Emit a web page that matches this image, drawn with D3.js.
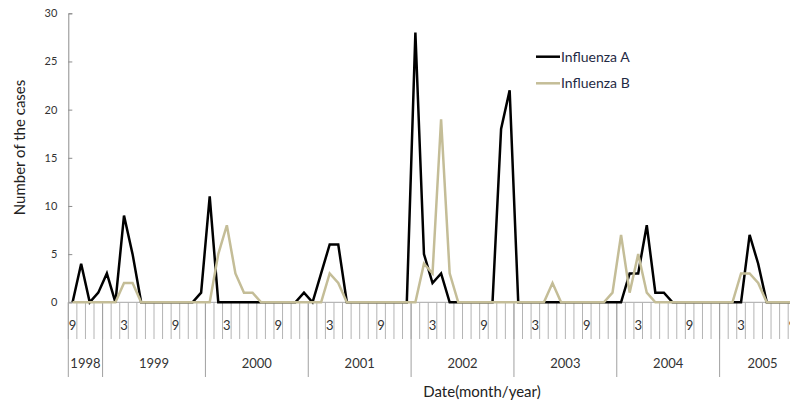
<!DOCTYPE html>
<html>
<head>
<meta charset="utf-8">
<script src="https://cdn.jsdelivr.net/npm/d3@7"></script>
<style>
  html, body { margin: 0; padding: 0; background: #fff; }
  svg { display: block; font-family: Lato, "Open Sans", sans-serif; }
</style>
</head>
<body>
<svg id="chart" width="790" height="404"></svg>
<script>
// ---- Data ----
// Monthly categories: Sep 1998 .. Oct 2005
const years = [1998, 1999, 2000, 2001, 2002, 2003, 2004, 2005];
const monthsPerYear = [4, 12, 12, 12, 12, 12, 12, 10];
const firstMonthOfYear = [9, 1, 1, 1, 1, 1, 1, 1];

const influenzaA = [
  0, 4, 0, 1,                               // 1998 Sep-Dec
  3, 0, 9, 5, 0, 0, 0, 0, 0, 0, 0, 1,       // 1999
  11, 0, 0, 0, 0, 0, 0, 0, 0, 0, 0, 1,      // 2000
  0, 3, 6, 6, 0, 0, 0, 0, 0, 0, 0, 0,       // 2001
  28, 5, 2, 3, 0, 0, 0, 0, 0, 0, 18, 22,    // 2002
  0, 0, 0, 0, 0, 0, 0, 0, 0, 0, 0, 0,       // 2003
  0, 3, 3, 8, 1, 1, 0, 0, 0, 0, 0, 0,       // 2004
  0, 0, 0, 7, 4, 0, 0, 0, 0, 0              // 2005 Jan-Oct
];
const influenzaB = [
  0, 0, 0, 0,
  0, 0, 2, 2, 0, 0, 0, 0, 0, 0, 0, 0,
  0, 5, 8, 3, 1, 1, 0, 0, 0, 0, 0, 0,
  0, 0, 3, 2, 0, 0, 0, 0, 0, 0, 0, 0,
  0, 4, 3, 19, 3, 0, 0, 0, 0, 0, 0, 0,
  0, 0, 0, 0, 2, 0, 0, 0, 0, 0, 0, 1,
  7, 1, 5, 1, 0, 0, 0, 0, 0, 0, 0, 0,
  0, 0, 3, 3, 2, 0, 0, 0, 0, 0
];
const yTicks = [0, 5, 10, 15, 20, 25, 30];
const labeledMonths = [3, 9];
const seriesNames = ["Influenza A", "Influenza B"];

// ---- Build month list ----
const months = [];
years.forEach((yr, k) => {
  for (let j = 0; j < monthsPerYear[k]; j++) {
    months.push({ year: yr, month: firstMonthOfYear[k] + j, idx: months.length });
  }
});

// ---- Layout ----
const svg = d3.select("#chart");
const plotLeft = 68.3, plotRight = 68.3 + 86 * 8.57;
const plotTop = 13.3, plotBottom = 302.3;

const x = d3.scaleBand().domain(months.map(d => d.idx)).range([plotLeft, plotRight]).padding(0);
const y = d3.scaleLinear().domain([0, 30]).range([plotBottom, plotTop]);
const cx = i => x(i) + x.bandwidth() / 2;

const gray = "#a6a6a6";
const textCol = "#333";

// ---- Y axis ----
const yAxis = d3.axisLeft(y).tickValues(yTicks).tickSize(-4).tickPadding(11);
const gy = svg.append("g").attr("transform", `translate(${plotLeft},0)`).call(yAxis);
gy.select(".domain").attr("stroke", "#8c8c8c").attr("stroke-width", 1);
gy.selectAll(".tick line").attr("stroke", "#8c8c8c");
gy.selectAll(".tick text").attr("fill", textCol).style("font-size", "11px")
  .style("font-family", "Lato, 'Open Sans', sans-serif");

// ---- X axis (multi-level) ----
const gx = svg.append("g");
gx.append("line").attr("x1", plotLeft).attr("x2", plotRight).attr("y1", plotBottom).attr("y2", plotBottom)
  .attr("stroke", gray).attr("stroke-width", 1);

// month tick separators
gx.selectAll("line.mtick").data(d3.range(months.length + 1)).join("line")
  .attr("class", "mtick")
  .attr("x1", i => plotLeft + i * x.bandwidth()).attr("x2", i => plotLeft + i * x.bandwidth())
  .attr("y1", plotBottom).attr("y2", 339)
  .attr("stroke", "#b4b4b4").attr("stroke-width", 1);

// month labels
gx.selectAll("text.mlab").data(months.filter(d => labeledMonths.includes(d.month))).join("text")
  .attr("class", "mlab")
  .attr("x", d => cx(d.idx)).attr("y", 330)
  .attr("text-anchor", "middle").attr("fill", textCol)
  .style("font-size", "13px")
  .text(d => d.month);

// year dividers and labels
let acc = 0;
const yearSpans = years.map((yr, k) => {
  const s = { year: yr, start: acc, end: acc + monthsPerYear[k] };
  acc += monthsPerYear[k];
  return s;
});
const boundaries = [0].concat(yearSpans.map(s => s.end));
gx.selectAll("line.ydiv").data(boundaries).join("line")
  .attr("class", "ydiv")
  .attr("x1", i => plotLeft + i * x.bandwidth()).attr("x2", i => plotLeft + i * x.bandwidth())
  .attr("y1", plotBottom).attr("y2", 377)
  .attr("stroke", "#a0a0a0").attr("stroke-width", 1);
gx.selectAll("text.ylab").data(yearSpans).join("text")
  .attr("class", "ylab")
  .attr("x", s => plotLeft + (s.start + s.end) / 2 * x.bandwidth()).attr("y", 368)
  .attr("text-anchor", "middle").attr("fill", textCol)
  .style("font-size", "13px")
  .text(s => s.year);

// ---- Axis titles ----
svg.append("text").attr("x", 482).attr("y", 397).attr("text-anchor", "middle")
  .attr("fill", "#222").style("font-size", "15px").text("Date(month/year)");
svg.append("text").attr("transform", "translate(24.5,147.5) rotate(-90)")
  .attr("text-anchor", "middle").attr("fill", "#222").style("font-size", "15px")
  .text("Number of the cases");

// ---- Lines ----
const line = d3.line().x((d, i) => cx(i)).y(d => y(d));
svg.append("path").datum(influenzaA).attr("d", line)
  .attr("fill", "none").attr("stroke", "#000").attr("stroke-width", 2.5)
  .attr("stroke-linejoin", "miter");
svg.append("path").datum(influenzaB).attr("d", line)
  .attr("fill", "none").attr("stroke", "#c4bd97").attr("stroke-width", 2.5)
  .attr("stroke-linejoin", "miter");

// ---- Legend ----
const legColors = ["#000", "#c4bd97"];
const leg = svg.append("g");
seriesNames.forEach((name, k) => {
  const ly = 56.7 + k * 26.6;
  leg.append("line").attr("x1", 536).attr("x2", 560).attr("y1", ly).attr("y2", ly)
    .attr("stroke", legColors[k]).attr("stroke-width", 2.5);
  leg.append("text").attr("x", 561).attr("y", ly + 5).attr("fill", "#1f2a44")
    .style("font-size", "14px").text(name);
});
</script>
</body>
</html>
